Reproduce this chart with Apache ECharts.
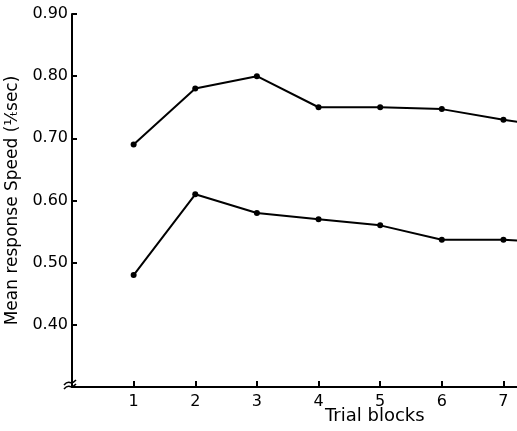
<!DOCTYPE html>
<html>
<head>
<meta charset="utf-8">
<script src="https://cdn.jsdelivr.net/npm/echarts@6/dist/echarts.min.js"></script>
<style>
  html, body { margin: 0; padding: 0; background: #fff; }
  #main { width: 517px; height: 431px; }
</style>
</head>
<body>
<div id="main"></div>
<script>
// trial blocks (8th point is the segment running off the right edge)
var blocks = [1, 2, 3, 4, 5, 6, 7, 8];
var upperSpeed = [0.69, 0.78, 0.80, 0.75, 0.75, 0.747, 0.73, 0.715];
var lowerSpeed = [0.48, 0.61, 0.58, 0.57, 0.56, 0.537, 0.537, 0.53];
var xTicks = [1, 2, 3, 4, 5, 6, 7];
var yTicks = [0.40, 0.50, 0.60, 0.70, 0.80, 0.90];

function pairs(vals) {
  return blocks.map(function (b, i) { return [b, vals[i]]; });
}

var chart = echarts.init(document.getElementById('main'));
var font = 'DejaVu Sans';

function lineSeries(vals) {
  return {
    type: 'line',
    data: pairs(vals),
    clip: true,
    symbol: 'circle',
    symbolSize: 6,
    itemStyle: { color: '#000' },
    lineStyle: { color: '#000', width: 2 },
    silent: true
  };
}

chart.setOption({
  backgroundColor: '#fff',
  animation: false,
  grid: { left: 72, top: 14, right: 0, bottom: 44, containLabel: false, outerBoundsMode: 'none' },
  xAxis: {
    type: 'value',
    min: 0,
    max: 7.22,
    interval: 1,
    splitLine: { show: false },
    axisLine: { lineStyle: { color: '#000', width: 2 } },
    axisTick: { inside: true, length: 6, customValues: xTicks, lineStyle: { color: '#000', width: 2 } },
    axisLabel: {
      color: '#000',
      fontFamily: font,
      fontSize: 16,
      margin: 7,
      customValues: xTicks,
      formatter: function (v) { return String(Math.round(v)); }
    }
  },
  yAxis: {
    type: 'value',
    min: 0.3,
    max: 0.9,
    interval: 0.1,
    splitLine: { show: false },
    axisLine: { lineStyle: { color: '#000', width: 2 } },
    axisTick: { inside: true, length: 5, customValues: yTicks, lineStyle: { color: '#000', width: 2 } },
    axisLabel: {
      color: '#000',
      fontFamily: font,
      fontSize: 16,
      margin: 4,
      customValues: yTicks,
      formatter: function (v) { return v.toFixed(2); }
    },
    name: 'Mean response Speed (¹⁄ₜsec)',
    nameLocation: 'middle',
    nameGap: 47,
    nameTextStyle: { color: '#000', fontFamily: font, fontSize: 17 }
  },
  graphic: [
    {
      type: 'text',
      left: 325,
      top: 407,
      style: { text: 'Trial blocks', fill: '#000', font: '18px "DejaVu Sans"' }
    },
    {
      type: 'bezierCurve',
      shape: { x1: 64, y1: 385, x2: 76, y2: 380, cpx1: 70, cpy1: 378, cpx2: 70, cpy2: 387 },
      style: { stroke: '#000', lineWidth: 1.5, fill: 'none' }
    },
    {
      type: 'bezierCurve',
      shape: { x1: 64, y1: 389, x2: 76, y2: 384, cpx1: 70, cpy1: 382, cpx2: 70, cpy2: 391 },
      style: { stroke: '#000', lineWidth: 1.5, fill: 'none' }
    }
  ],
  series: [lineSeries(upperSpeed), lineSeries(lowerSpeed)]
});
</script>
</body>
</html>
